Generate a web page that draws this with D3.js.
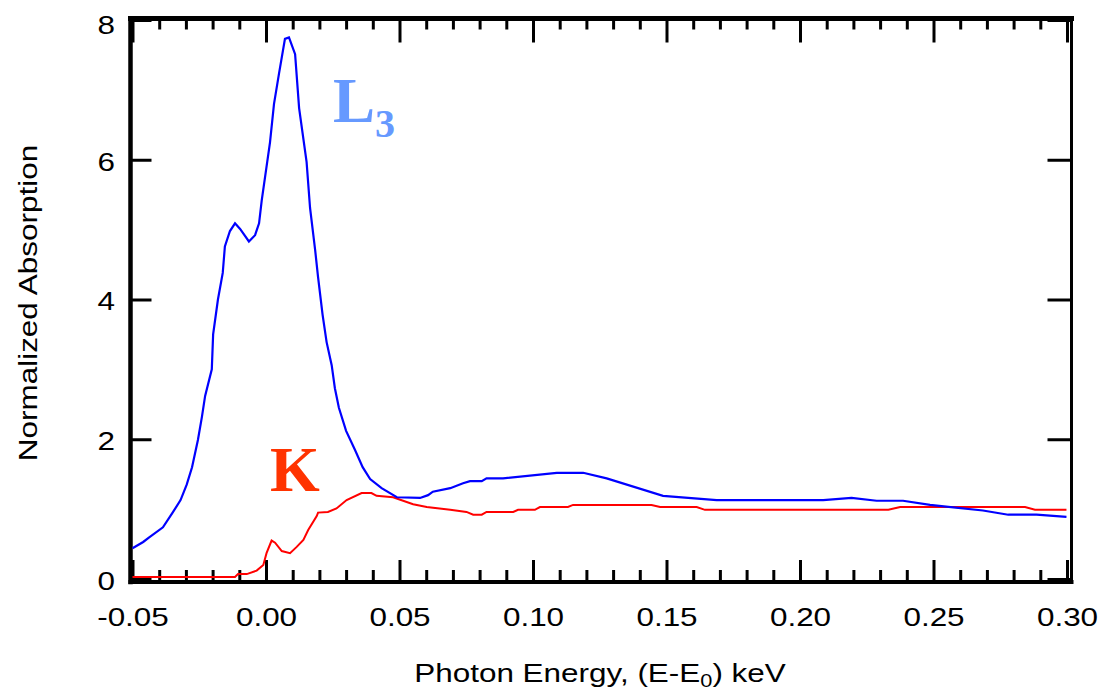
<!DOCTYPE html>
<html>
<head>
<meta charset="utf-8">
<script src="https://cdn.jsdelivr.net/npm/d3@7"></script>
<style>
  body { margin: 0; background: #fff; }
  svg text { font-family: "Liberation Sans", Arial, sans-serif; }
</style>
</head>
<body>
<svg id="chart" width="1100" height="690"></svg>
<script>
// L3 edge, photon energy (keV) and normalized absorption
const blueE = [-0.05, -0.046, -0.044, -0.0386, -0.0348, -0.032, -0.0297, -0.0277, -0.0255, -0.024,
  -0.0228, -0.0203, -0.0198, -0.018, -0.0162, -0.0154, -0.0135, -0.0116, -0.0097, -0.0064,
  -0.0041, -0.0026, -0.0016, 0.0015, 0.003, 0.0049, 0.0071, 0.0086, 0.0109, 0.0124,
  0.0152, 0.0165, 0.0184, 0.0195, 0.0212, 0.0227, 0.0246, 0.0258, 0.0273, 0.03,
  0.0333, 0.0362, 0.039, 0.0433, 0.049, 0.0577, 0.0607, 0.0625, 0.069, 0.0738,
  0.0764, 0.0808, 0.0826, 0.0888, 0.1089, 0.1188, 0.1276, 0.1487, 0.1688, 0.2087,
  0.2193, 0.2287, 0.2386, 0.2487, 0.2685, 0.278, 0.2886, 0.2998];
const blueA = [0.44, 0.53, 0.59, 0.74, 0.96, 1.13, 1.35, 1.6, 1.99, 2.32,
  2.62, 3.0, 3.5, 4.0, 4.38, 4.76, 4.98, 5.09, 5.01, 4.83,
  4.92, 5.09, 5.42, 6.25, 6.8, 7.24, 7.73, 7.75, 7.51, 6.74,
  5.97, 5.31, 4.71, 4.32, 3.78, 3.39, 3.06, 2.73, 2.45, 2.12,
  1.85, 1.6, 1.43, 1.3, 1.17, 1.16, 1.2, 1.25, 1.3, 1.37,
  1.4, 1.4, 1.44, 1.44, 1.52, 1.52, 1.44, 1.19, 1.13, 1.13,
  1.16, 1.12, 1.12, 1.06, 0.98, 0.92, 0.92, 0.89];

// K edge
const redE = [-0.05, -0.0116, -0.0105, -0.0072, -0.0035, -0.001, 0.0002, 0.0021, 0.0034, 0.0059,
  0.009, 0.0115, 0.014, 0.0158, 0.019, 0.0195, 0.0232, 0.0264, 0.0302, 0.0358,
  0.0395, 0.0414, 0.0476, 0.0551, 0.0602, 0.069, 0.0751, 0.0776, 0.0808, 0.0826,
  0.0926, 0.0944, 0.1007, 0.1026, 0.1131, 0.115, 0.1444, 0.1476, 0.1613, 0.1644,
  0.2331, 0.2375, 0.2843, 0.288, 0.2998];
const redA = [0.03, 0.03, 0.07, 0.07, 0.12, 0.2, 0.37, 0.55, 0.52, 0.4,
  0.37, 0.46, 0.56, 0.7, 0.9, 0.95, 0.96, 1.01, 1.13, 1.23,
  1.23, 1.19, 1.17, 1.07, 1.03, 0.99, 0.96, 0.92, 0.92, 0.96,
  0.96, 0.99, 0.99, 1.03, 1.03, 1.06, 1.06, 1.03, 1.03, 0.99,
  0.99, 1.03, 1.03, 0.99, 0.99];

const xMajor = [-0.05, 0.00, 0.05, 0.10, 0.15, 0.20, 0.25, 0.30];
const xLabels = ['-0.05', '0.00', '0.05', '0.10', '0.15', '0.20', '0.25', '0.30'];
const yMajor = [0, 2, 4, 6, 8];

const svg = d3.select('#chart');

const x = d3.scaleLinear().domain([-0.05, 0.30]).range([132.5, 1067]);
const y = d3.scaleLinear().domain([0, 8]).range([579, 20]);

const frame = {left: 130.5, right: 1071.5, top: 18.5, bottom: 582};
const stretch = 1.21;   // text in the original is drawn wide
const xMinor = d3.range(-5, 31).map(i => i / 100).filter(v => !xMajor.some(m => Math.abs(m - v) < 1e-9));

const tickStyle = g => {
  g.select('.domain').remove();
  g.selectAll('.tick line').attr('stroke', '#000').attr('stroke-width', 3);
};

// bottom ticks + labels
svg.append('g')
  .attr('transform', `translate(0,${frame.bottom})`)
  .call(d3.axisBottom(x).tickValues(xMinor).tickSize(-12).tickFormat(''))
  .call(tickStyle);
svg.append('g')
  .attr('transform', `translate(0,${frame.bottom})`)
  .call(d3.axisBottom(x).tickValues(xMajor).tickSize(-22).tickPadding(26)
    .tickFormat((d, i) => xLabels[i]))
  .call(tickStyle)
  .call(g => g.selectAll('.tick text')
    .attr('font-size', 26).attr('fill', '#000')
    .attr('transform', `scale(${stretch},1)`));

// top ticks
svg.append('g')
  .attr('transform', `translate(0,${frame.top})`)
  .call(d3.axisTop(x).tickValues(xMinor).tickSize(-11).tickFormat(''))
  .call(tickStyle);
svg.append('g')
  .attr('transform', `translate(0,${frame.top})`)
  .call(d3.axisTop(x).tickValues(xMajor).tickSize(-24).tickFormat(''))
  .call(tickStyle);

// left ticks + labels
svg.append('g')
  .attr('transform', `translate(${frame.left},0)`)
  .call(d3.axisLeft(y).tickValues(yMajor).tickSize(-21).tickPadding(15.5).tickFormat(d3.format('d')))
  .call(tickStyle)
  .call(g => g.selectAll('.tick text')
    .attr('font-size', 26).attr('fill', '#000')
    .attr('x', -15.5 / stretch)
    .attr('dy', d => d === 8 ? '0.5em' : '0.4em')
    .attr('transform', `scale(${stretch},1)`));

// right ticks
svg.append('g')
  .attr('transform', `translate(${frame.right},0)`)
  .call(d3.axisRight(y).tickValues(yMajor).tickSize(-24).tickFormat(''))
  .call(tickStyle);

// frame
const fr = svg.append('g').attr('stroke', '#000').attr('stroke-linecap', 'square');
fr.append('line').attr('x1', frame.left).attr('x2', frame.right).attr('y1', frame.top).attr('y2', frame.top).attr('stroke-width', 5);
fr.append('line').attr('x1', frame.left).attr('x2', frame.right).attr('y1', frame.bottom).attr('y2', frame.bottom).attr('stroke-width', 4);
fr.append('line').attr('x1', frame.left).attr('x2', frame.left).attr('y1', frame.top).attr('y2', frame.bottom).attr('stroke-width', 4.5);
fr.append('line').attr('x1', frame.right).attr('x2', frame.right).attr('y1', frame.top).attr('y2', frame.bottom).attr('stroke-width', 3);

// curves
const line = d3.line().x(d => x(d[0])).y(d => y(d[1]));

svg.append('path')
  .datum(redE.map((e, i) => [e, redA[i]]))
  .attr('d', line)
  .attr('fill', 'none')
  .attr('stroke', '#ff0000')
  .attr('stroke-width', 2);

svg.append('path')
  .datum(blueE.map((e, i) => [e, blueA[i]]))
  .attr('d', line)
  .attr('fill', 'none')
  .attr('stroke', '#0000ff')
  .attr('stroke-width', 2.2);

// edge labels
const l3 = svg.append('text')
  .attr('x', 333).attr('y', 122)
  .attr('fill', '#6699ff')
  .style('font-family', '"Liberation Serif", "Times New Roman", serif')
  .style('font-weight', 'bold')
  .attr('font-size', 63);
l3.append('tspan').text('L');
l3.append('tspan').attr('font-size', 40).attr('dy', 15).text('3');

svg.append('text')
  .attr('x', 270).attr('y', 491)
  .attr('fill', '#ff3300')
  .style('font-family', '"Liberation Serif", "Times New Roman", serif')
  .style('font-weight', 'bold')
  .attr('font-size', 64)
  .text('K');

// axis titles
const xt = svg.append('text')
  .attr('transform', `translate(600,682) scale(${stretch},1)`)
  .attr('text-anchor', 'middle')
  .attr('font-size', 26);
xt.append('tspan').text('Photon Energy, (E-E');
xt.append('tspan').attr('font-size', 18).attr('dy', 5).text('0');
xt.append('tspan').attr('dy', -5).text(') keV');

svg.append('text')
  .attr('transform', `translate(37,303) rotate(-90) scale(${stretch},1)`)
  .attr('text-anchor', 'middle')
  .attr('font-size', 26)
  .text('Normalized Absorption');
</script>
</body>
</html>
